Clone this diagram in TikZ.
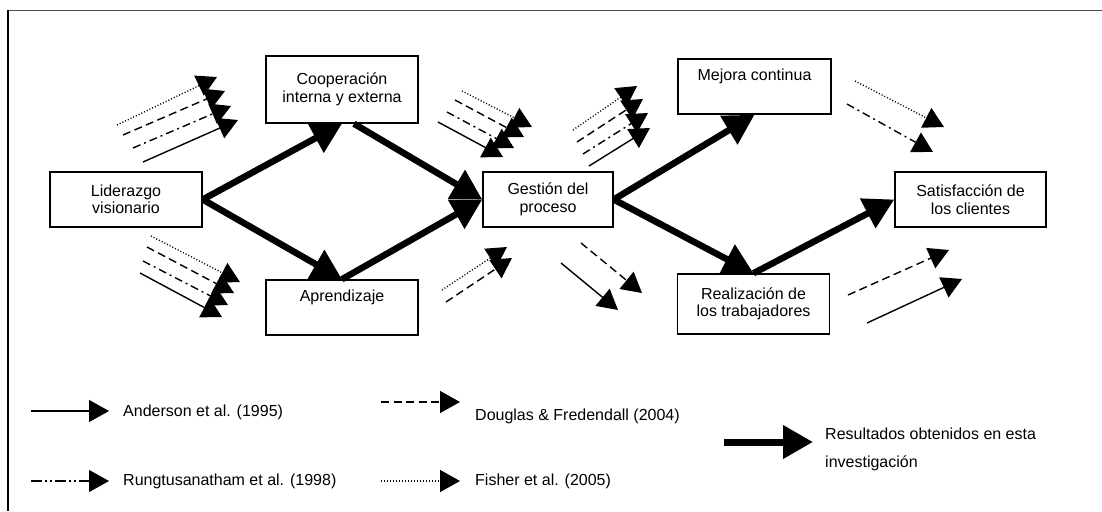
\documentclass[tikz,border=0pt]{standalone}
\usepackage{fontspec}
\setmainfont{Liberation Sans}
\usetikzlibrary{arrows.meta}
\begin{document}
\begin{tikzpicture}[x=1pt,y=-1pt,
  box/.style={draw, line width=1.5pt, inner sep=0pt, align=center, font=\fontsize{16}{17.5}\selectfont},
  thickarrow/.style={line width=6.5pt, -{Triangle[length=30pt,width=32pt]}},
  thinarrow/.style={line width=1.4pt, -{Triangle[length=20pt,width=22pt]}},
  dotline/.style={dash pattern=on 1pt off 2pt},
  dashline/.style={dash pattern=on 8pt off 4.5pt},
  dashdotline/.style={dash pattern=on 8pt off 4pt on 2pt off 4pt},
  dashdotdotline/.style={dash pattern=on 11pt off 3pt on 2pt off 3pt on 2pt off 3pt},
  legendtext/.style={font=\fontsize{16}{17.5}\selectfont, anchor=west, inner sep=0pt}
]
\useasboundingbox (0,0) rectangle (1102,511);
% frame
\draw[line width=1.8pt, black!70] (8,10.5) -- (1102,10.5);
\draw[line width=1.3pt] (8,10) -- (8,511);

% boxes
\node[box, minimum width=152pt, minimum height=55pt] (lid) at (126,199.5) {Liderazgo\\visionario};
\node[box, minimum width=152pt, minimum height=67pt] (coop) at (342,89.5) {Cooperación\\interna y externa};
\node[box, minimum width=152pt, minimum height=55pt] (apr) at (342,307.5) {Aprendizaje\\\strut};
\node[box, minimum width=130pt, minimum height=55pt] (ges) at (548,199.5) {Gestión del\\proceso};
\node[box, minimum width=153pt, minimum height=55pt] (mej) at (754.5,86.5) {Mejora continua\\\strut};
\node[box, minimum width=152pt, minimum height=60pt] (rea) at (753.5,304) {Realización de\\los trabajadores};
\node[box, minimum width=151pt, minimum height=55pt] (sat) at (970.5,199.5) {Satisfacción de\\los clientes};

% thick arrows (results)
\draw[thickarrow] (lid.east) -- (coop.south);
\draw[thickarrow] (lid.east) -- (apr.north);
\draw[thickarrow] ([xshift=12pt]coop.south) -- (ges.west);
\draw[thickarrow] (apr.north) -- (ges.west);
\draw[thickarrow] (ges.east) -- (mej.south);
\draw[thickarrow] (ges.east) -- (rea.north);
\draw[thickarrow] (rea.north) -- (sat.west);

% group A
\coordinate (a1s) at (117,125); \coordinate (a1e) at (217,77);
\coordinate (a2s) at (123,135); \coordinate (a2e) at (225,91);
\coordinate (a3s) at (133,148); \coordinate (a3e) at (231,106);
\coordinate (a4s) at (143,162); \coordinate (a4e) at (238,120);
\draw[thinarrow, dotline] (a1s) -- (a1e);
\draw[thinarrow, dashline] (a2s) -- (a2e);
\draw[thinarrow, dashdotline] (a3s) -- (a3e);
\draw[thinarrow] (a4s) -- (a4e);
% group B
\coordinate (b1s) at (151,236); \coordinate (b1e) at (240,282);
\coordinate (b2s) at (147,247); \coordinate (b2e) at (234,293);
\coordinate (b3s) at (143,261); \coordinate (b3e) at (228,305);
\coordinate (b4s) at (140,273); \coordinate (b4e) at (222,317);
\draw[thinarrow, dotline] (b1s) -- (b1e);
\draw[thinarrow, dashline] (b2s) -- (b2e);
\draw[thinarrow, dashdotline] (b3s) -- (b3e);
\draw[thinarrow] (b4s) -- (b4e);
% group C
\coordinate (c1s) at (462,91); \coordinate (c1e) at (532,127);
\coordinate (c2s) at (455,100); \coordinate (c2e) at (524,137);
\coordinate (c3s) at (447,112); \coordinate (c3e) at (514,148);
\coordinate (c4s) at (438,122); \coordinate (c4e) at (503,157);
\draw[thinarrow, dotline] (c1s) -- (c1e);
\draw[thinarrow, dashline] (c2s) -- (c2e);
\draw[thinarrow, dashdotline] (c3s) -- (c3e);
\draw[thinarrow] (c4s) -- (c4e);
% group D
\coordinate (d1s) at (573,130); \coordinate (d1e) at (637,86);
\coordinate (d2s) at (577,142); \coordinate (d2e) at (643,99);
\coordinate (d3s) at (583,154); \coordinate (d3e) at (648,113);
\coordinate (d4s) at (589,166); \coordinate (d4e) at (650,128);
\draw[thinarrow, dotline] (d1s) -- (d1e);
\draw[thinarrow, dashline] (d2s) -- (d2e);
\draw[thinarrow, dashdotline] (d3s) -- (d3e);
\draw[thinarrow] (d4s) -- (d4e);
% group E
\coordinate (e1s) at (442,290); \coordinate (e1e) at (507,247);
\coordinate (e2s) at (446,302); \coordinate (e2e) at (512,258);
\draw[thinarrow, dotline] (e1s) -- (e1e);
\draw[thinarrow, dashline] (e2s) -- (e2e);
% group F
\coordinate (f1s) at (581,243); \coordinate (f1e) at (642,293);
\coordinate (f2s) at (561,263); \coordinate (f2e) at (618,310);
\draw[thinarrow, dashline] (f1s) -- (f1e);
\draw[thinarrow] (f2s) -- (f2e);
% group G
\coordinate (g1s) at (855,81); \coordinate (g1e) at (944,127);
\coordinate (g2s) at (847,104); \coordinate (g2e) at (933,152);
\draw[thinarrow, dotline] (g1s) -- (g1e);
\draw[thinarrow, dashdotline] (g2s) -- (g2e);
% group H
\coordinate (h1s) at (848,295); \coordinate (h1e) at (949,250);
\coordinate (h2s) at (867,323); \coordinate (h2e) at (962,279);
\draw[thinarrow, dashline] (h1s) -- (h1e);
\draw[thinarrow] (h2s) -- (h2e);

% legend
\coordinate (l1s) at (31,411); \coordinate (l1e) at (109,411);
\draw[thinarrow] (l1s) -- (l1e);
\node[legendtext] (t1) at (123,412) {Anderson et al. (1995)};
\coordinate (l2s) at (31,481); \coordinate (l2e) at (109,481);
\draw[thinarrow, dashdotdotline] (l2s) -- (l2e);
\node[legendtext] (t2) at (123,481) {Rungtusanatham et al. (1998)};
\coordinate (l3s) at (381,402); \coordinate (l3e) at (460,402);
\draw[thinarrow, dashline] (l3s) -- (l3e);
\node[legendtext] (t3) at (475,416) {Douglas \& Fredendall (2004)};
\coordinate (l4s) at (381,481); \coordinate (l4e) at (460,481);
\draw[thinarrow, dotline] (l4s) -- (l4e);
\node[legendtext] (t4) at (475,481) {Fisher et al. (2005)};
\coordinate (l5s) at (724,442); \coordinate (l5e) at (813,442);
\draw[line width=7pt, -{Triangle[length=30pt,width=32pt]}] (l5s) -- (l5e);
\node[legendtext, align=left, font=\fontsize{16}{28}\selectfont] (t5) at (825,449.5) {Resultados obtenidos en esta\\investigación};
\end{tikzpicture}
\end{document}
